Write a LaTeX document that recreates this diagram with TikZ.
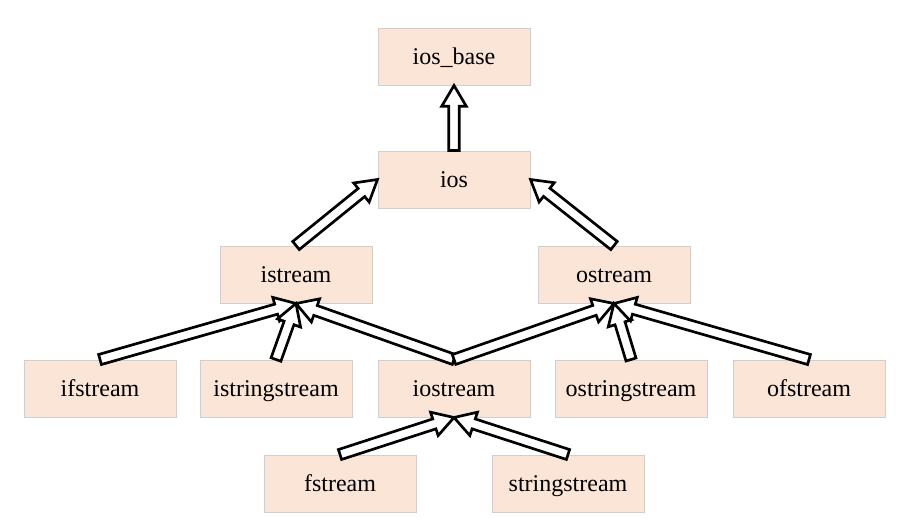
\documentclass[tikz,border=0pt]{standalone}
\usepackage{fontspec}
\setmainfont{Liberation Serif}
\usetikzlibrary{calc}

\definecolor{classfill}{RGB}{251,229,214}
\definecolor{classline}{RGB}{208,206,206}

\begin{document}
\begin{tikzpicture}[
    x=0.75pt, y=-0.75pt,
    % Styles
    class/.style={ % Class box
        rectangle,
        minimum width=114pt,
        minimum height=42.75pt,
        inner sep=0pt,
        text height=13pt,
        text depth=1.75pt,
        draw=classline,
        line width=0.75pt,
        fill=classfill,
        font=\fontsize{18}{22}\selectfont
    },
    inherit/.style={ % Hollow block arrow
        draw,
        fill=white,
        line width=2pt,
        line join=miter,
        to path={
            ($(\tikztotarget)!15.5pt!(\tikztostart)$) coordinate (ahead)
            ($(\tikztostart)!3.9pt!90:(\tikztotarget)$)
            -- ($(ahead)!3.9pt!90:(\tikztotarget)$)
            -- ($(ahead)!9.2pt!90:(\tikztotarget)$)
            -- (\tikztotarget)
            -- ($(ahead)!9.2pt!-90:(\tikztotarget)$)
            -- ($(ahead)!3.9pt!-90:(\tikztotarget)$)
            -- ($(\tikztostart)!3.9pt!-90:(\tikztotarget)$)
            -- cycle
        }
    }
]
    \useasboundingbox (0,0) rectangle (898,525);

    % Base classes
    \node at (454, 56.5) [class] (ios_base) {ios\_base};
    \node at (454, 179.5) [class] (ios) {ios};

    % Streams
    \node at (296, 274.5) [class] (istream) {istream};
    \node at (614, 274.5) [class] (ostream) {ostream};

    % Derived streams
    \node at (100, 388.5) [class] (ifstream) {ifstream};
    \node at (276, 388.5) [class] (istringstream) {istringstream};
    \node at (454, 388.5) [class] (iostream) {iostream};
    \node at (631, 388.5) [class] (ostringstream) {ostringstream};
    \node at (809, 388.5) [class] (ofstream) {ofstream};

    % Bottom row
    \node at (340, 483.5) [class] (fstream) {fstream};
    \node at (568, 483.5) [class] (stringstream) {stringstream};

    % Inheritance arrows
    \draw [inherit] (ios.north) to (ios_base.south);
    \draw [inherit] (istream.north) to (ios.west);
    \draw [inherit] (ostream.north) to (ios.east);
    \foreach \c in {ifstream, istringstream, iostream}
        \draw [inherit] (\c.north) to (istream.south);
    \foreach \c in {iostream, ostringstream, ofstream}
        \draw [inherit] (\c.north) to (ostream.south);
    \foreach \c in {fstream, stringstream}
        \draw [inherit] (\c.north) to (iostream.south);
\end{tikzpicture}
\end{document}
